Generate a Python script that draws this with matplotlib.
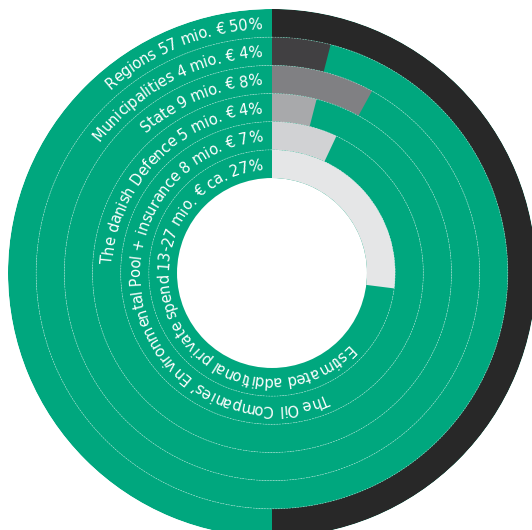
import numpy as np
import matplotlib
matplotlib.use("Agg")
import matplotlib.pyplot as plt
from matplotlib.font_manager import findfont, FontProperties
from matplotlib.ft2font import FT2Font

# ring data, outer -> inner
labels = [
    "Regions 57 mio. € 50%",
    "Municipalities 4 mio. € 4%",
    "State 9 mio. € 8%",
    "The danish Defence 5 mio. € 4%",
    "The Oil Companies\u2019 Environmental Pool + insurance 8 mio. € 7%",
    "Estimated additional private spend 13-27 mio. € ca. 27%",
]
shares = [50, 4, 8, 4, 7, 27]
colors = ["#282828", "#414042", "#808083", "#a8a9ab", "#d1d2d4", "#e5e6e7"]
green = "#00a77e"

W, H, DPI = 532, 530, 100
R_OUT = 264.0
RING_W = 28.17
FONT_SIZE = 10.6
FAMILY = "DejaVu Sans"

fig = plt.figure(figsize=(W / DPI, H / DPI), dpi=DPI)
cx, cy = 272 / W, 1 - 273 / H
ax = fig.add_axes([cx - R_OUT / W, cy - R_OUT / H, 2 * R_OUT / W, 2 * R_OUT / H],
                  projection="polar")
ax.set_theta_zero_location("N")
ax.set_theta_direction(-1)
ax.set_ylim(0, R_OUT)
ax.axis("off")

# glyph advances (points -> pixels)
ft = FT2Font(findfont(FontProperties(family=FAMILY)))
ft.set_size(FONT_SIZE, 72)
def adv(c):
    return ft.load_char(ord(c)).linearHoriAdvance / 65536 * DPI / 72

cap_h = 0.73 * FONT_SIZE * DPI / 72

for i, (lab, pct, col) in enumerate(zip(labels, shares, colors)):
    r0 = R_OUT - (i + 1) * RING_W
    # green full ring + coloured share starting at 12 o'clock
    ax.bar(0, RING_W, width=2 * np.pi, bottom=r0, align="edge",
           color=green, linewidth=0)
    ax.bar(0, RING_W, width=2 * np.pi * pct / 100, bottom=r0, align="edge",
           color=col, linewidth=0)

    # curved label ending just left of 12 o'clock
    r_mid = r0 + RING_W / 2
    r_base = r_mid - cap_h / 2
    widths = [adv(c) for c in lab]
    total = sum(widths)
    theta = -10.0 / r_mid - total / r_mid
    for c, w in zip(lab, widths):
        tc = theta + (w / 2) / r_mid
        ax.text(tc, r_base, c, color="white", fontsize=FONT_SIZE, family=FAMILY,
                rotation=-np.degrees(tc), rotation_mode="anchor",
                ha="center", va="baseline")
        theta += w / r_mid

# thin dashed separators between rings
t = np.linspace(0, 2 * np.pi, 720)
for i in range(1, len(shares)):
    r = R_OUT - i * RING_W
    ax.plot(t, np.full_like(t, r), color="white", lw=0.5, alpha=0.5,
            ls=(0, (2, 2)))

fig.savefig("out.png", dpi=DPI)
